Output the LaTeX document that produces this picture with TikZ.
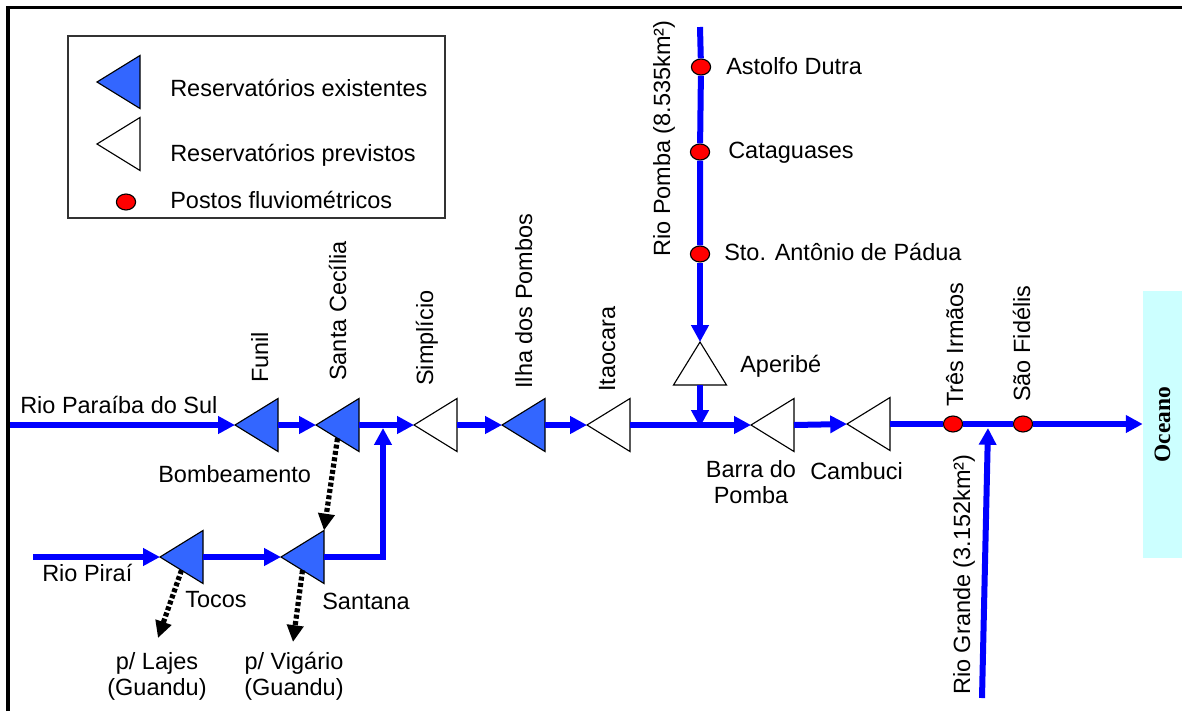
\documentclass[tikz,border=0pt]{standalone}
\usepackage{fontspec}
\setmainfont{Liberation Sans}
\newfontfamily\oceanofont{Liberation Serif}
\usetikzlibrary{shapes.geometric,arrows.meta,calc}
\definecolor{azulrio}{RGB}{0,0,255}
\definecolor{azulres}{RGB}{51,102,255}
\definecolor{cianooceano}{RGB}{204,255,255}

\begin{document}
\begin{tikzpicture}[x=0.025cm, y=-0.025cm, >={Triangle[length=0.42cm,width=0.42cm]},
        font=\fontsize{16.7pt}{18.5pt}\selectfont,
        resex/.style={draw=black, line width=0.8pt, fill=azulres, isosceles triangle, isosceles triangle stretches,
            shape border rotate=180, minimum width=1.325cm, minimum height=1.075cm, inner sep=0pt, outer sep=0pt, anchor=apex},
        resprev/.style={resex, fill=white},
        posto/.style={draw=black, line width=0.8pt, fill=red, ellipse, minimum width=0.48cm, minimum height=0.4cm, inner sep=0pt},
        rio/.style={draw=azulrio, line width=0.15cm},
        bomba/.style={draw=black, line width=0.13cm, dash pattern=on 0.1cm off 0.06cm, -{Triangle[length=0.42cm,width=0.4cm]}},
        lbl/.style={inner sep=0pt, anchor=base west},
        vlbl/.style={inner sep=0pt, anchor=base west, rotate=90}]
        \useasboundingbox (0,0) rectangle (1182,711);
        \draw[line width=0.075cm] (8,711) -- (8,7) -- (1182,7);

        % legenda
        \draw[line width=0.04cm, draw=black!80] (68,36) rectangle (445,218);
        \node[resex] (legex) at (97,82) {};
        \node[resprev] (legprev) at (97,144) {};
        \node[posto] (legposto) at (126,202) {};
        \node[lbl] (legextxt) at (170,96) {Reservatórios existentes};
        \node[lbl] (legprevtxt) at (170,161) {Reservatórios previstos};
        \node[lbl] (legpostotxt) at (170,208) {Postos fluviométricos};

        % reservatorios e postos
        \node[resex] (funil) at (235,425) {};
        \node[resex] (stacecilia) at (316,425) {};
        \node[resprev] (simplicio) at (414,425) {};
        \node[resex] (ilha) at (502,425) {};
        \node[resprev] (itaocara) at (587,425) {};
        \node[resprev] (barra) at (751,425) {};
        \node[resprev] (cambuci) at (847,424) {};
        \node[posto] (tresirmaos) at (953,424) {};
        \node[posto] (saofidelis) at (1023,424) {};
        \node[fill=cianooceano, rotate=90, minimum width=6.675cm, minimum height=0.975cm, inner sep=0pt] (oceano) at (1162.5,424.5) {\oceanofont\bfseries Oceano};
        \node[resprev, shape border rotate=90] (aperibe) at (700,342) {};
        \node[posto] (astolfo) at (701,67) {};
        \node[posto] (cataguases) at (700,152) {};
        \node[posto] (padua) at (700,254) {};
        \node[resex] (tocos) at (160,557) {};
        \node[resex] (santana) at (281,557) {};

        \coordinate (paraibanasc) at (10,425);
        \coordinate (pombanasc) at (700,27);
        \coordinate (fozpomba) at (700,427);
        \coordinate (grandenasc) at (982,698);
        \coordinate (grandefoz) at (988,428);
        \coordinate (piranasc) at (33,557);
        \coordinate (juncao) at (383,428);
        \coordinate (lajes) at (158,638);
        \coordinate (vigario) at (293,642);

        % rios
        \draw[rio,->] (paraibanasc) -- (funil.apex);
        \draw[rio,->] (funil.lower side) -- (stacecilia.apex);
        \draw[rio,->] (stacecilia.lower side) -- (simplicio.apex);
        \draw[rio,->] (simplicio.lower side) -- (ilha.apex);
        \draw[rio,->] (ilha.lower side) -- (itaocara.apex);
        \draw[rio,->] (itaocara.lower side) -- (barra.apex);
        \draw[rio,->] (barra.lower side) -- (cambuci.apex);
        \draw[rio] (cambuci.lower side) -- (tresirmaos) -- (saofidelis);
        \draw[rio,->] (saofidelis) -- (saofidelis -| oceano.north);
        \draw[rio] (pombanasc) -- (astolfo) -- (cataguases) -- (padua);
        \draw[rio,->] (padua) -- (aperibe.apex);
        \draw[rio,->] (aperibe.lower side) -- (fozpomba);
        \draw[rio,->] (grandenasc) -- (grandefoz);
        \draw[rio,->] (piranasc) -- (tocos.apex);
        \draw[rio,->] (tocos.lower side) -- (santana.apex);
        \draw[rio,->] (santana.lower side) -| (juncao);

        % bombeamento e transposicoes
        \draw[bomba] ($(stacecilia.apex)!0.5!(stacecilia.left corner)$) -- (santana.right corner);
        \draw[bomba] ($(tocos.apex)!0.5!(tocos.left corner)$) -- (lajes);
        \draw[bomba] ($(santana.apex)!0.5!(santana.left corner)$) -- (vigario);

        % rotulos
        \node[lbl] (lblparaiba) at (20,413) {Rio Paraíba do Sul};
        \node[lbl] (lblbomb) at (158,482) {Bombeamento};
        \node[lbl] (lblpirai) at (42,581) {Rio Piraí};
        \node[lbl] (lbltocos) at (185,607) {Tocos};
        \node[lbl] (lblsantana) at (322,609) {Santana};
        \node[align=center, inner sep=0pt] (lbllajes) at (157,676) {p/ Lajes\\(Guandu)};
        \node[align=center, inner sep=0pt] (lblvigario) at (294,676) {p/ Vigário\\(Guandu)};
        \node[lbl] (lblaperibe) at (740,372) {Aperibé};
        \node[align=center, inner sep=0pt] (lblbarra) at (751,482) {Barra do\\Pomba};
        \node[lbl] (lblcambuci) at (810,479) {Cambuci};
        \node[lbl] (lblastolfo) at (726,74) {Astolfo Dutra};
        \node[lbl] (lblcatag) at (728,158) {Cataguases};
        \node[lbl] (lblpadua) at (724,260) {Sto. Antônio de Pádua};
        \node[vlbl] (lblfunil) at (268,383) {Funil};
        \node[vlbl] (lblstacec) at (346,381) {Santa Cecília};
        \node[vlbl] (lblsimpl) at (433,386) {Simplício};
        \node[vlbl] (lblilha) at (532,389) {Ilha dos Pombos};
        \node[vlbl] (lblitaoc) at (615,392) {Itaocara};
        \node[vlbl] (lbltres) at (963,407) {Três Irmãos};
        \node[vlbl] (lblsaofid) at (1030,402) {São Fidélis};
        \node[vlbl] (lblpomba) at (670,257) {Rio Pomba (8.535km²)};
        \node[vlbl] (lblgrande) at (970,695) {Rio Grande (3.152km²)};
\end{tikzpicture}
\end{document}
